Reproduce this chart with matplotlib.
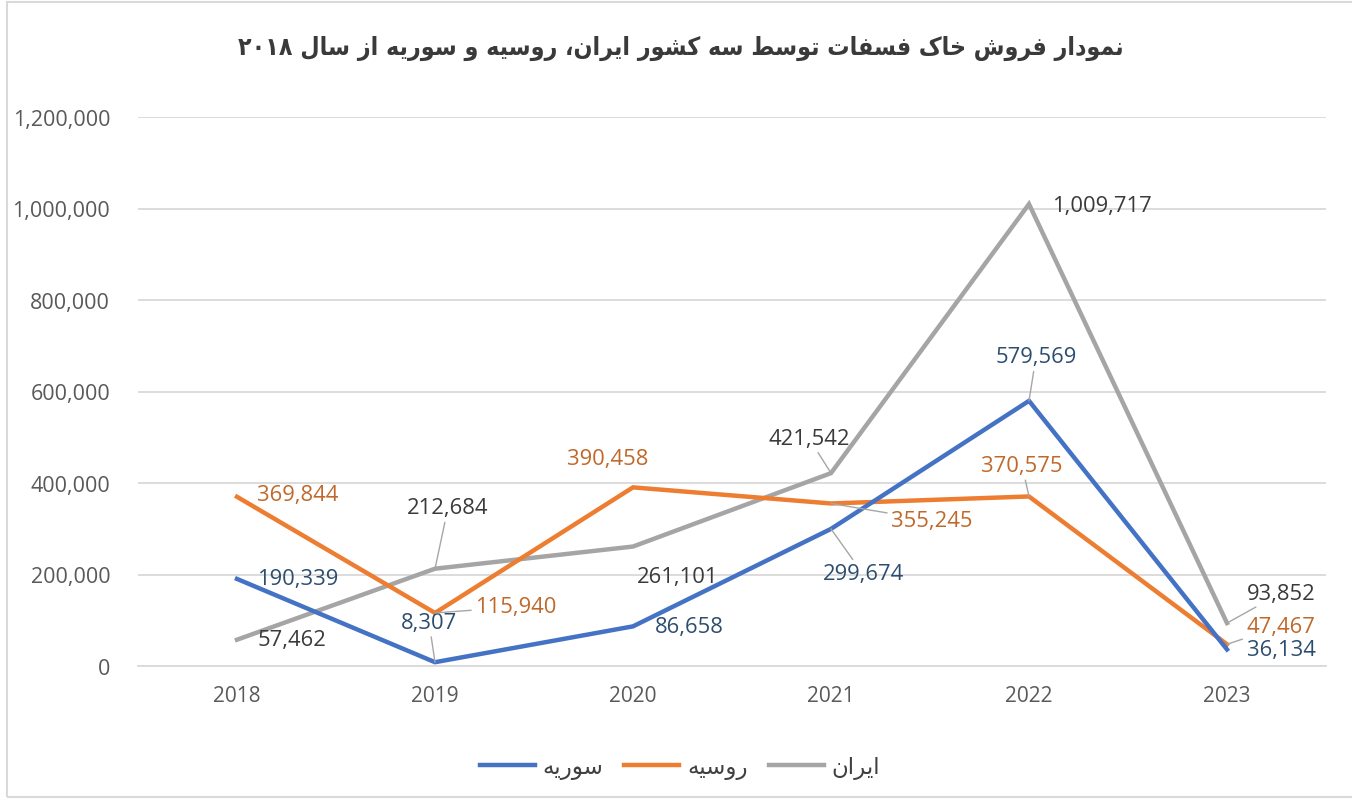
import re
import matplotlib
matplotlib.use("Agg")
import matplotlib.pyplot as plt
from matplotlib.patches import Rectangle
from matplotlib.lines import Line2D

# ---------------- data ----------------
years = ["2018", "2019", "2020", "2021", "2022", "2023"]
syria = [190339, 8307, 86658, 299674, 579569, 36134]
russia = [369844, 115940, 390458, 355245, 370575, 47467]
iran = [57462, 212684, 261101, 421542, 1009717, 93852]
yticks = [0, 200000, 400000, 600000, 800000, 1000000, 1200000]

title_fa = "نمودار فروش خاک فسفات توسط سه کشور ایران، روسیه و سوریه از سال ۲۰۱۸"
name_syria = "سوریه"
name_russia = "روسیه"
name_iran = "ایران"

# ---------------- minimal Persian shaping ----------------
FORMS = {
    "ا": (0xFE8D, 0xFE8E, None, None),
    "د": (0xFEA9, 0xFEAA, None, None),
    "ر": (0xFEAD, 0xFEAE, None, None),
    "ز": (0xFEAF, 0xFEB0, None, None),
    "و": (0xFEED, 0xFEEE, None, None),
    "ت": (0xFE95, 0xFE96, 0xFE97, 0xFE98),
    "خ": (0xFEA5, 0xFEA6, 0xFEA7, 0xFEA8),
    "س": (0xFEB1, 0xFEB2, 0xFEB3, 0xFEB4),
    "ش": (0xFEB5, 0xFEB6, 0xFEB7, 0xFEB8),
    "ط": (0xFEC1, 0xFEC2, 0xFEC3, 0xFEC4),
    "ف": (0xFED1, 0xFED2, 0xFED3, 0xFED4),
    "ل": (0xFEDD, 0xFEDE, 0xFEDF, 0xFEE0),
    "م": (0xFEE1, 0xFEE2, 0xFEE3, 0xFEE4),
    "ن": (0xFEE5, 0xFEE6, 0xFEE7, 0xFEE8),
    "ه": (0xFEE9, 0xFEEA, 0xFEEB, 0xFEEC),
    "ک": (0xFB8E, 0xFB8F, 0xFB90, 0xFB91),
    "ی": (0xFBFC, 0xFBFD, 0xFBFE, 0xFBFF),
}


def shape(text):
    out = []
    n = len(text)
    for i, ch in enumerate(text):
        if ch not in FORMS:
            out.append(ch)
            continue
        iso, fin, ini, med = FORMS[ch]
        prev = text[i - 1] if i > 0 else ""
        nxt = text[i + 1] if i < n - 1 else ""
        jp = prev in FORMS and FORMS[prev][2] is not None
        jn = nxt in FORMS and ini is not None
        if jp and jn:
            c = med
        elif jp:
            c = fin
        elif jn:
            c = ini
        else:
            c = iso
        out.append(chr(c))
    vis = "".join(out)[::-1]
    vis = re.sub(r"[۰-۹0-9]+", lambda m: m.group(0)[::-1], vis)
    return vis


FA = ["DejaVu Sans"]
NUM = ["Open Sans", "DejaVu Sans"]

c_blue, c_orange, c_gray = "#4472C4", "#ED7D31", "#A5A5A5"
t_blue, t_orange, t_gray = "#2C4E6E", "#C0682A", "#3A3A3A"

fig = plt.figure(figsize=(13.52, 8.03), dpi=100)
fig.patch.set_facecolor("white")
W, H = 1352, 803

ax = fig.add_axes([138 / W, 1 - 667 / H, (1326 - 138) / W, (667 - 118) / H])
x = list(range(len(years)))

ax.plot(x, iran, color=c_gray, lw=3.2, solid_joinstyle="miter", zorder=3)
ax.plot(x, russia, color=c_orange, lw=3.2, solid_joinstyle="miter", zorder=4)
ax.plot(x, syria, color=c_blue, lw=3.2, solid_joinstyle="miter", zorder=5)

ax.set_xlim(-0.5, len(years) - 0.5)
ax.set_ylim(yticks[0], yticks[-1])
ax.set_yticks(yticks)
ax.set_yticklabels([f"{v:,}" for v in yticks], family=NUM, fontsize=15.5, color="#595959")
ax.set_xticks(x)
ax.set_xticklabels(years, family=NUM, fontsize=15, color="#595959")
ax.tick_params(axis="y", length=0, pad=20)
ax.tick_params(axis="x", length=0, pad=14)
for s in ["top", "right", "left"]:
    ax.spines[s].set_visible(False)
ax.spines["bottom"].set_color("#D9D9D9")
ax.spines["bottom"].set_linewidth(1.3)
ax.grid(axis="y", color="#D9D9D9", lw=1.3)
ax.set_axisbelow(True)

# label offsets in pixels (dx, dy up), and whether a leader line is drawn
off_syria = [(61, 0, 0), (-6, 40, 1), (56, 0, 0), (32, -45, 1), (7, 44, 1), (54, 0, 0)]
off_russia = [(61, 2, 0), (81, 6, 1), (-25, 29, 0), (101, -17, 1), (-7, 31, 1), (54, 18, 1)]
off_iran = [(55, 0, 0), (13, 61, 1), (45, -30, 0), (-22, 35, 1), (73, -1, 0), (54, 30, 1)]

for vals, offs, col in [(syria, off_syria, t_blue), (russia, off_russia, t_orange), (iran, off_iran, t_gray)]:
    for xi, v, (dx, dy, lead) in zip(x, vals, offs):
        kw = {}
        if lead:
            kw["arrowprops"] = dict(arrowstyle="-", color="#A6A6A6", lw=1.0, shrinkA=1, shrinkB=0)
        ax.annotate(f"{v:,}", xy=(xi, v), xytext=(dx, dy), textcoords="offset pixels",
                    ha="center", va="center", fontsize=15.8, color=col, family=NUM,
                    zorder=6, annotation_clip=False, **kw)

# title
fig.text(681 / W, 1 - 48 / H, shape(title_fa), ha="center", va="center", fontsize=17.8,
         fontweight="bold", fontstretch="condensed", color="#3A3A3A", family=FA)

# legend
handles = [Line2D([], [], color=c_blue, lw=3.2),
           Line2D([], [], color=c_orange, lw=3.2),
           Line2D([], [], color=c_gray, lw=3.2)]
labels = [shape(name_syria), shape(name_russia), shape(name_iran)]
fig.legend(handles, labels, loc="center", bbox_to_anchor=(680 / W, 1 - 768 / H), ncol=3,
           frameon=False, handlelength=2.4, columnspacing=0.9, handletextpad=0.35,
           prop={"family": FA, "size": 16.5}, labelcolor="#404040")

# chart border
fig.patches.append(Rectangle((7 / W, 1 - 798 / H), 1.0, (798 - 3) / H, transform=fig.transFigure,
                             fill=False, edgecolor="#D9D9D9", lw=1.5))

fig.savefig("out.png", dpi=100, facecolor="white")
